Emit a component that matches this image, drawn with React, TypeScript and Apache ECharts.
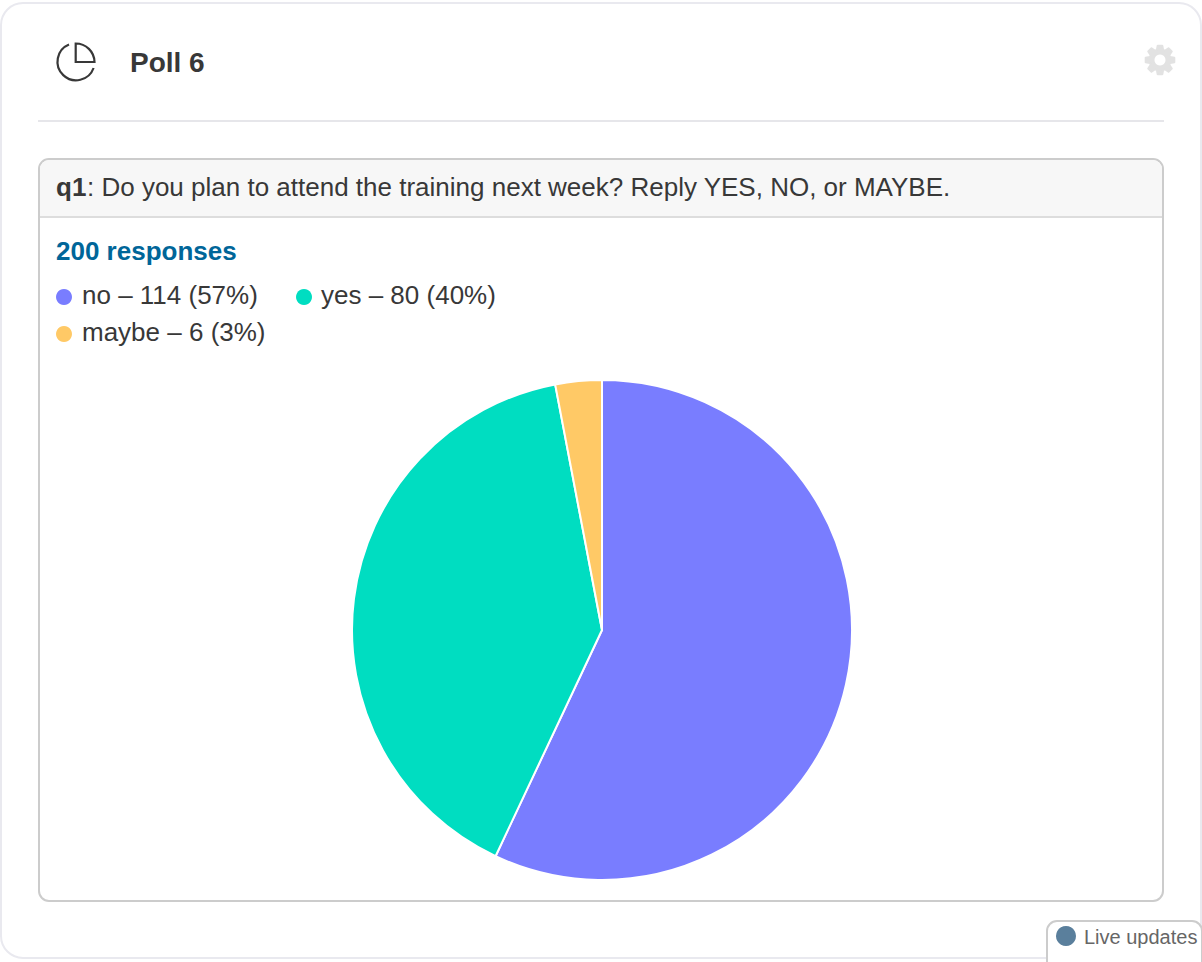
import React, { useEffect, useRef } from "react";
import * as echarts from "echarts";

const categories = ["no", "yes", "maybe"];
const values = [114, 80, 6];
const percents = [57, 40, 3];
const colors = ["#797dff", "#00ddc1", "#ffc966"];
const FONT = '"Liberation Sans", Arial, sans-serif';

function gearPath() {
  const teeth = 8;
  const outer = 14.5;
  const inner = 10.5;
  const parts: string[] = [];
  for (let i = 0; i < teeth; i++) {
    const a = (i * 2 * Math.PI) / teeth - Math.PI / 2;
    const pts = [
      [inner, a - 0.3],
      [outer, a - 0.16],
      [outer, a + 0.16],
      [inner, a + 0.3],
    ];
    pts.forEach(([r, t], k) => {
      const cmd = i === 0 && k === 0 ? "M" : "L";
      parts.push(`${cmd}${(r * Math.cos(t)).toFixed(2)} ${(r * Math.sin(t)).toFixed(2)}`);
    });
  }
  return parts.join("") + "Z";
}

echarts.graphic.registerShape(
  "pollIcon",
  echarts.graphic.extendPath(
    "M69 44.5A18.6 18.6 0 1 0 93.6 68M75.7 43.5V62H94.5A18.8 18.8 0 0 0 75.7 43.5Z",
    {}
  )
);
echarts.graphic.registerShape("gearIcon", echarts.graphic.extendPath(gearPath(), {}));

const legendPos = [
  { dot: [64, 297], text: [82, 295] },
  { dot: [304, 297], text: [321, 295] },
  { dot: [64, 334], text: [82, 332] },
];

export default function App() {
  const ref = useRef<HTMLDivElement>(null);
  useEffect(() => {
    const chart = echarts.init(ref.current!, null, { renderer: "svg" });
    const legend: any[] = [];
    categories.forEach((c, i) => {
      legend.push({
        type: "circle",
        shape: { cx: legendPos[i].dot[0], cy: legendPos[i].dot[1], r: 8 },
        style: { fill: colors[i] },
      });
      legend.push({
        type: "text",
        x: legendPos[i].text[0],
        y: legendPos[i].text[1],
        style: {
          text: `${c} – ${values[i]} (${percents[i]}%)`,
          font: `26px ${FONT}`,
          fill: "#383838",
          textVerticalAlign: "middle",
        },
      });
    });
    chart.setOption({
      animation: false,
      backgroundColor: "#ffffff",
      graphic: [
        {
          type: "group",
          z: -1,
          silent: true,
          children: [
            { type: "rect", shape: { x: 1, y: 3, width: 1200, height: 955, r: 22 }, style: { fill: "#ffffff", stroke: "#e9e9ef", lineWidth: 2 } },
            { type: "pollIcon", style: { fill: "none", stroke: "#383838", lineWidth: 2.2 } },
            { type: "gearIcon", x: 1160, y: 60, style: { fill: "#e2e2e2", stroke: "#e2e2e2", lineWidth: 2, lineJoin: "round" } },
            { type: "circle", shape: { cx: 1160, cy: 60, r: 5.5 }, style: { fill: "#ffffff" } },
            { type: "text", x: 130, y: 62, style: { text: "Poll 6", font: `bold 28px ${FONT}`, fill: "#383838", textVerticalAlign: "middle" } },
            { type: "line", shape: { x1: 38, y1: 121, x2: 1164, y2: 121 }, style: { stroke: "#e6e6ea", lineWidth: 2 } },
            { type: "rect", shape: { x: 39, y: 159, width: 1124, height: 742, r: 10 }, style: { fill: "#ffffff", stroke: "#cccccc", lineWidth: 2 } },
            { type: "rect", shape: { x: 40, y: 160, width: 1122, height: 57, r: [9, 9, 0, 0] }, style: { fill: "#f7f7f7" } },
            { type: "line", shape: { x1: 40, y1: 217, x2: 1162, y2: 217 }, style: { stroke: "#dddddd", lineWidth: 2 } },
            { type: "text", x: 56, y: 187, style: { text: "q1", font: `bold 26px ${FONT}`, fill: "#383838", textVerticalAlign: "middle" } },
            { type: "text", x: 87, y: 187, style: { text: ": Do you plan to attend the training next week? Reply YES, NO, or MAYBE.", font: `26px ${FONT}`, fill: "#383838", textVerticalAlign: "middle" } },
            { type: "text", x: 56, y: 251, style: { text: "200 responses", font: `bold 26px ${FONT}`, fill: "#006699", textVerticalAlign: "middle" } },
            ...legend,
            { type: "rect", shape: { x: 1047, y: 921, width: 155, height: 60, r: 10 }, style: { fill: "#ffffff", stroke: "#cccccc", lineWidth: 2 } },
            { type: "circle", shape: { cx: 1066, cy: 936, r: 10 }, style: { fill: "#5a7f9c" } },
            { type: "text", x: 1084, y: 937, style: { text: "Live updates", font: `20px ${FONT}`, fill: "#666666", textVerticalAlign: "middle" } },
          ],
        },
      ],
      series: [
        {
          type: "pie",
          center: [602, 630],
          radius: [0, 250],
          startAngle: 90,
          clockwise: true,
          label: { show: false },
          labelLine: { show: false },
          silent: true,
          itemStyle: { borderColor: "#ffffff", borderWidth: 2 },
          data: categories.map((c, i) => ({ name: c, value: values[i], itemStyle: { color: colors[i] } })),
        },
      ],
    });
    return () => chart.dispose();
  }, []);
  return <div ref={ref} style={{ position: "absolute", left: 0, top: 0, width: 1202, height: 962 }} />;
}
